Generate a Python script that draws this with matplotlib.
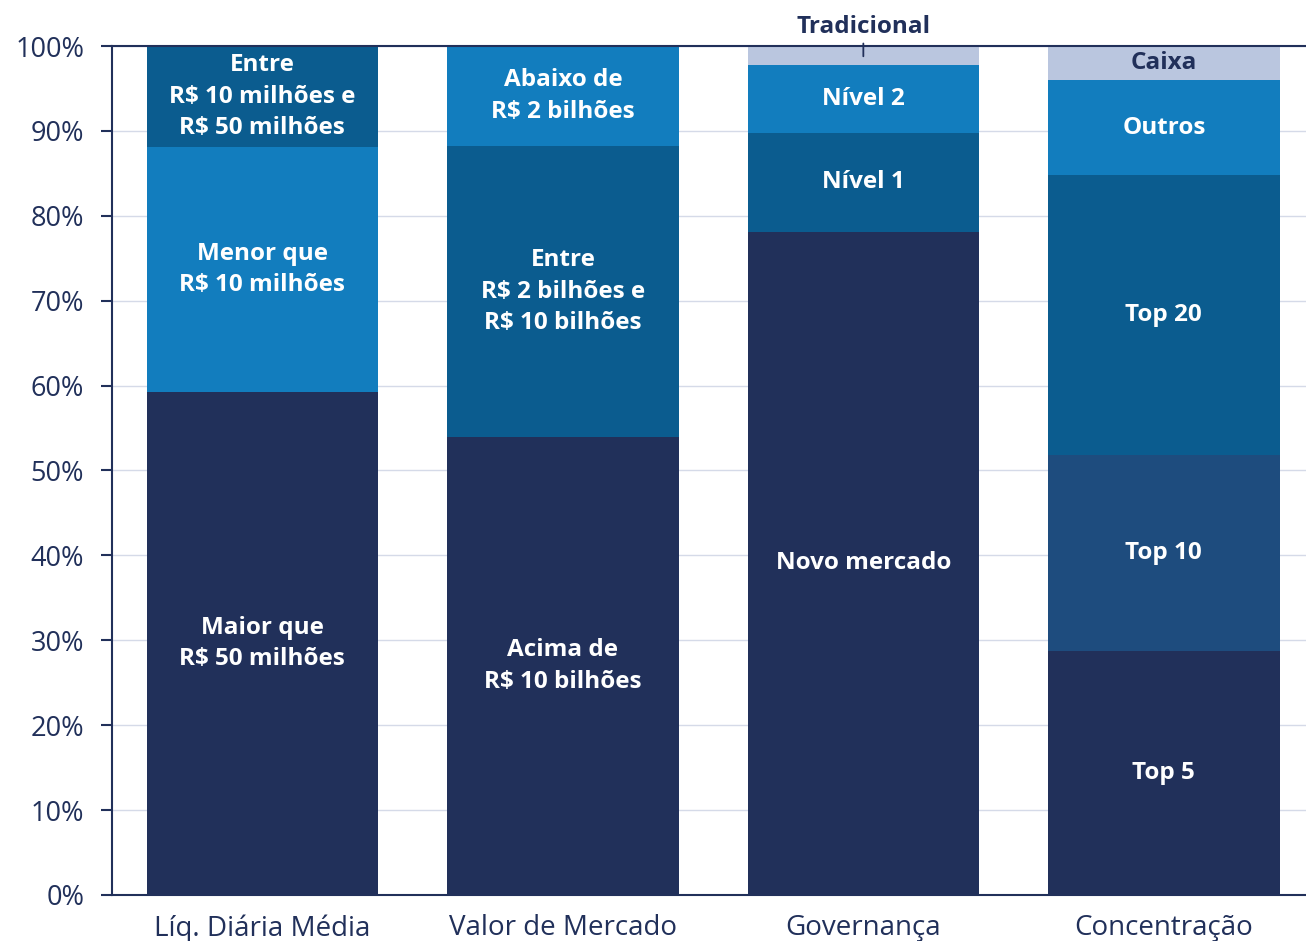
import matplotlib
matplotlib.use("Agg")
import matplotlib.pyplot as plt
import numpy as np

plt.rcParams['font.family'] = ['Open Sans', 'DejaVu Sans']

categories = ["Líq. Diária Média", "Valor de Mercado", "Governança", "Concentração"]

# segments per bar (bottom to top), in %
seg_values = [
    [59.2, 28.9, 11.9],
    [53.9, 34.3, 11.8],
    [78.1, 11.65, 8.05, 2.2],
    [28.7, 23.1, 33.0, 11.2, 4.0],
]
seg_labels = [
    ["Maior que\nR$ 50 milhões", "Menor que\nR$ 10 milhões", "Entre\nR$ 10 milhões e\nR$ 50 milhões"],
    ["Acima de\nR$ 10 bilhões", "Entre\nR$ 2 bilhões e\nR$ 10 bilhões", "Abaixo de\nR$ 2 bilhões"],
    ["Novo mercado", "Nível 1", "Nível 2", "Tradicional"],
    ["Top 5", "Top 10", "Top 20", "Outros", "Caixa"],
]

NAVY = "#21305A"
MID = "#0B5C8F"
LIGHT = "#127DBE"
TOP10 = "#1E4C7E"
PALE = "#BAC6DF"
seg_colors = [
    [NAVY, LIGHT, MID],
    [NAVY, MID, LIGHT],
    [NAVY, MID, LIGHT, PALE],
    [NAVY, TOP10, MID, LIGHT, PALE],
]

fig = plt.figure(figsize=(13.06, 9.41), dpi=100)
ax = fig.add_axes([0.0858, 0.0489, 0.9142, 0.9022])

x = np.arange(len(categories))
width = 0.77
FS = 17.5
for i in range(len(categories)):
    bottom = 0.0
    for v, lab, col in zip(seg_values[i], seg_labels[i], seg_colors[i]):
        ax.bar(x[i], v, width, bottom=bottom, color=col, zorder=2, linewidth=0)
        yc = bottom + v / 2
        if lab == "Tradicional":
            ax.annotate(lab, xy=(x[i], bottom + v * 0.45), xytext=(x[i], 102.2),
                        ha='center', va='center', fontsize=FS, fontweight='bold',
                        color=NAVY, annotation_clip=False,
                        arrowprops=dict(arrowstyle='-', color=NAVY, lw=1.3,
                                        shrinkA=1, shrinkB=0), zorder=4)
        elif lab == "Caixa":
            ax.text(x[i], yc, lab, ha='center', va='center', fontsize=FS,
                    fontweight='bold', color=NAVY, zorder=3)
        else:
            ax.text(x[i], yc, lab, ha='center', va='center', fontsize=FS,
                    fontweight='bold', color='white', zorder=3, linespacing=1.42)
        bottom += v

ax.set_xlim(-0.5, 3.473)
ax.set_ylim(0, 100)
ax.set_yticks(np.arange(0, 101, 10))
ax.set_yticklabels([f"{t}%" for t in range(0, 101, 10)])
ax.set_xticks(x)
ax.set_xticklabels(categories)
ax.tick_params(axis='y', labelsize=19.5, colors=NAVY, length=8, width=1.5,
               labelcolor=NAVY, pad=12)
ax.tick_params(axis='x', labelsize=20, length=0, labelcolor=NAVY, pad=14)
ax.yaxis.grid(True, color="#D5DAE8", lw=1, zorder=0)
ax.set_axisbelow(True)
for s in ['left', 'bottom', 'top']:
    ax.spines[s].set_color(NAVY)
    ax.spines[s].set_linewidth(1.5)
ax.spines['right'].set_visible(False)

fig.savefig("out.png", dpi=100)
